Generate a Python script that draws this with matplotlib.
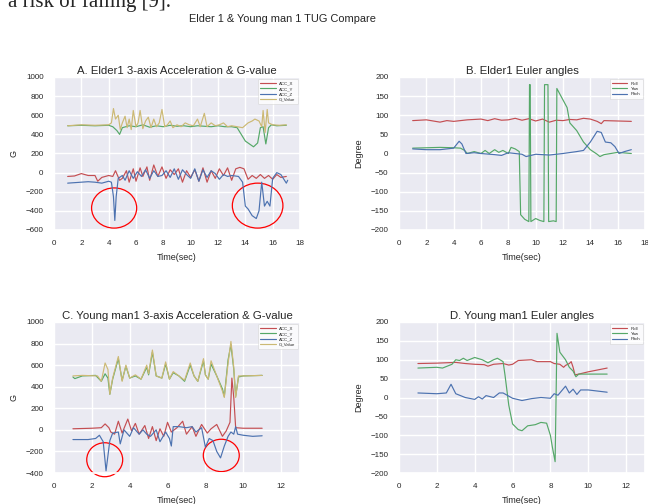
import numpy as np
import matplotlib
matplotlib.use('Agg')
import matplotlib.pyplot as plt
import seaborn as sns
from matplotlib.patches import Ellipse

# Panel A: Elder1 acceleration (time, value)
a_x_t = [1.0, 1.5, 2.0, 2.5, 3.0, 3.2, 3.5, 4.0, 4.3, 4.5, 4.8, 5.0, 5.3, 5.5, 5.8, 6.0, 6.3, 6.5, 6.8, 7.0,
         7.3, 7.6, 7.9, 8.2, 8.5, 8.8, 9.1, 9.4, 9.7, 10.0, 10.3, 10.6, 10.9, 11.2, 11.5, 11.8, 12.1, 12.4,
         12.7, 13.0, 13.3, 13.6, 13.9, 14.2, 14.5, 14.8, 15.1, 15.4, 15.7, 16.0, 16.3, 16.6, 17.0]
a_x_v = [-40, -35, -10, -30, -30, -90, -50, -30, -40, 20, -80, -60, 20, -100, 40, -90, 50, -40, 60, -80,
         80, -40, 60, -60, 30, -20, 40, -100, 20, -50, 30, -90, 50, -100, 20, -60, 40, -30, 50, -80,
         40, 55, 40, -70, -30, -60, -20, -60, -30, -70, -20, -50, -40]
a_y_t = [1.0, 2.0, 3.0, 4.0, 4.3, 4.6, 4.8, 5.0, 5.5, 6.0, 6.5, 7.0, 7.5, 8.0, 8.5, 9.0, 9.5, 10.0, 10.5,
         11.0, 11.5, 12.0, 12.5, 13.0, 13.4, 13.7, 14.0, 14.3, 14.6, 14.9, 15.1, 15.3, 15.5, 15.7, 15.9,
         16.3, 17.0]
a_y_v = [490, 495, 490, 495, 480, 440, 400, 470, 490, 480, 500, 475, 490, 480, 495, 485, 490, 480, 490,
         485, 480, 490, 480, 480, 470, 400, 330, 300, 270, 310, 470, 480, 300, 470, 500, 490, 495]
a_z_t = [1.0, 1.5, 2.0, 2.5, 3.0, 3.5, 4.0, 4.2, 4.35, 4.45, 4.55, 4.7, 5.0, 5.2, 5.5, 5.8, 6.1, 6.4,
         6.7, 7.0, 7.3, 7.6, 7.9, 8.2, 8.5, 8.8, 9.1, 9.4, 9.7, 10.0, 10.3, 10.6, 10.9, 11.2, 11.5, 11.8,
         12.1, 12.4, 12.7, 13.0, 13.5, 13.8, 14.0, 14.2, 14.5, 14.8, 15.0, 15.2, 15.4, 15.6, 15.8, 16.0,
         16.3, 16.6, 17.0, 17.1]
a_z_v = [-110, -105, -100, -95, -100, -110, -90, -100, -250, -500, -250, -60, -30, -80, 20, -60, 10, -40,
         30, -60, 20, -40, -30, 20, -50, 40, -70, 30, -20, -60, 40, -90, 30, -50, 20, -10, -70, -20, -40,
         -30, -40, -100, -350, -380, -450, -480, -400, -100, -350, -300, -350, -60, 0, -20, -110, -80]
a_g_t = [1.0, 2.0, 3.0, 4.0, 4.2, 4.35, 4.5, 4.7, 4.85, 5.0, 5.2, 5.35, 5.5, 5.65, 5.8, 6.0, 6.15, 6.3,
         6.5, 6.7, 6.9, 7.1, 7.3, 7.5, 7.7, 7.9, 8.1, 8.3, 8.5, 8.7, 9.0, 9.3, 9.6, 9.9, 10.2, 10.5, 10.7,
         11.0, 11.2, 11.5, 11.8, 12.1, 12.4, 12.7, 13.0, 13.4, 13.8, 14.2, 14.5, 14.7, 15.0, 15.2, 15.3,
         15.45, 15.6, 15.7, 15.85, 16.0, 16.5, 17.0]
a_g_v = [490, 500, 495, 500, 520, 670, 560, 600, 450, 520, 590, 470, 560, 450, 650, 480, 520, 650,
         460, 540, 580, 470, 560, 480, 520, 660, 480, 500, 540, 470, 500, 480, 520, 500, 490, 560, 480,
         620, 480, 520, 490, 500, 520, 480, 490, 480, 470, 520, 540, 560, 540, 480, 650, 420, 660, 520,
         510, 500, 495, 500]

# Panel B: Elder1 Euler angles
b_r_t = [1.0, 2.0, 3.0, 3.5, 4.0, 5.0, 6.0, 6.5, 7.0, 7.5, 8.0, 8.5, 9.0, 9.5, 10.0, 10.5, 11.0, 11.5,
         12.0, 12.5, 13.0, 13.5, 14.0, 14.5, 14.8, 15.0, 16.0, 17.0]
b_r_v = [86, 88, 82, 86, 84, 88, 90, 86, 91, 87, 88, 92, 87, 91, 85, 90, 82, 87, 86, 89, 88, 92, 90,
         84, 78, 86, 85, 84]
b_y_t = [1.0, 2.0, 3.0, 4.0, 4.5, 4.8, 5.0, 5.5, 6.0, 6.3, 6.6, 7.0, 7.3, 7.6, 8.0, 8.2, 8.5, 8.8,
         8.9, 9.2, 9.5, 9.55, 9.6, 9.65, 10.0, 10.3, 10.6, 10.65, 10.9, 10.95, 11.3, 11.5, 11.55, 12.0,
         12.3, 12.5, 13.0, 13.5, 14.0, 14.5, 14.7, 15.0, 16.0, 17.0]
b_y_v = [14, 15, 16, 15, 14, 8, 0, 5, 0, 8, 0, 10, 3, 8, 0, 16, 12, 5, -160, -172, -178, 180, 180,
         -178, -170, -175, -178, 180, 180, -178, -176, -178, 170, 140, 120, 80, 60, 30, 10, -2, -8, -3,
         3, 0]
b_p_t = [1.0, 2.0, 3.0, 4.0, 4.4, 4.6, 4.9, 5.5, 6.0, 7.0, 7.5, 8.0, 9.0, 9.3, 10.0, 11.0, 12.0,
         13.0, 13.5, 14.0, 14.5, 14.8, 15.1, 15.5, 15.8, 16.1, 16.5, 17.0]
b_p_v = [12, 10, 10, 14, 32, 25, 0, 2, 0, -3, -5, 2, -2, -8, -2, -4, 0, 5, 8, 30, 58, 55, 30, 28, 18,
         0, 5, 10]

# Panel C: Young man1 acceleration
c_x_t = [1.0, 2.0, 2.5, 2.7, 2.9, 3.0, 3.2, 3.4, 3.6, 3.9, 4.1, 4.3, 4.5, 4.8, 5.0, 5.2, 5.4, 5.6,
         5.8, 6.0, 6.2, 6.5, 6.8, 7.0, 7.3, 7.5, 7.8, 8.1, 8.3, 8.6, 8.9, 9.1, 9.3, 9.4, 9.5, 9.6, 10.0,
         11.0]
c_x_v = [10, 15, 20, 55, 20, -20, -40, 80, -30, 100, -10, 60, -40, 40, -80, 30, -100, 10, -60, 70,
         -20, 20, 80, -40, 30, -60, 50, -30, 10, 50, -60, -10, 70, 480, 300, 20, 15, 15]
c_y_t = [1.0, 1.1, 1.5, 2.2, 2.5, 2.7, 2.85, 2.95, 3.1, 3.4, 3.6, 3.8, 4.0, 4.3, 4.6, 4.9, 5.0, 5.2,
         5.4, 5.7, 5.9, 6.1, 6.3, 6.6, 6.9, 7.2, 7.4, 7.6, 7.9, 8.0, 8.15, 8.3, 8.6, 8.9, 9.0, 9.2, 9.35,
         9.5, 9.6, 9.75, 10.0, 11.0]
c_y_v = [490, 475, 500, 505, 450, 520, 480, 330, 470, 660, 460, 590, 480, 500, 470, 580, 510, 720,
         500, 480, 610, 470, 530, 500, 450, 600, 500, 450, 640, 510, 470, 610, 500, 380, 310, 650, 790,
         560, 310, 490, 500, 505]
c_z_t = [1.0, 1.8, 2.2, 2.4, 2.6, 2.75, 2.95, 3.1, 3.4, 3.5, 3.7, 4.0, 4.2, 4.5, 4.7, 4.9, 5.1, 5.4,
         5.6, 5.9, 6.1, 6.2, 6.3, 6.6, 7.0, 7.3, 7.5, 7.8, 8.0, 8.2, 8.4, 8.6, 8.8, 9.0, 9.2, 9.35, 9.5,
         9.6, 9.7, 10.0, 10.5, 11.0]
c_z_v = [-90, -90, -80, -50, -110, -380, -100, -30, -20, -130, 0, -60, 20, -40, 0, -40, -60, 0, -110,
         -20, -80, -150, 30, 30, 20, 30, -20, 20, -160, -80, -100, -200, -260, -150, -60, -20, -40, 30,
         -40, -50, -60, -55]
c_g_t = [1.0, 1.5, 2.3, 2.5, 2.7, 2.85, 2.95, 3.1, 3.4, 3.6, 3.8, 4.0, 4.3, 4.6, 4.9, 5.0, 5.2, 5.4,
         5.7, 5.9, 6.1, 6.3, 6.6, 6.9, 7.2, 7.4, 7.6, 7.9, 8.0, 8.15, 8.3, 8.6, 8.9, 9.0, 9.2, 9.35, 9.5,
         9.6, 9.75, 10.0, 11.0]
c_g_v = [500, 505, 500, 450, 620, 560, 330, 480, 680, 450, 600, 480, 510, 470, 600, 520, 740, 500,
         480, 630, 470, 540, 500, 460, 620, 500, 450, 660, 510, 470, 640, 500, 360, 300, 620, 820, 580,
         300, 500, 500, 505]

# Panel D: Young man1 Euler angles
d_r_t = [1.0, 2.0, 3.0, 3.5, 4.0, 4.5, 4.7, 5.0, 5.5, 5.8, 6.0, 6.3, 7.0, 7.3, 8.0, 8.2, 8.5, 8.7,
         8.8, 9.0, 9.1, 9.2, 9.3, 9.5, 10.0, 11.0]
d_r_v = [90, 91, 93, 90, 88, 87, 83, 88, 90, 86, 88, 98, 100, 95, 95, 90, 88, 80, 85, 90, 95, 80, 60,
         62, 68, 78]
d_y_t = [1.0, 2.0, 2.3, 2.8, 3.0, 3.2, 3.4, 3.6, 4.0, 4.4, 4.7, 5.0, 5.2, 5.5, 5.6, 5.8, 6.0, 6.3,
         6.5, 6.8, 7.2, 7.5, 7.8, 8.0, 8.1, 8.25, 8.35, 8.5, 8.8, 9.0, 9.2, 9.35, 9.5, 10.0, 11.0]
d_y_v = [78, 80, 78, 88, 100, 98, 104, 98, 106, 100, 92, 100, 104, 95, 60, -20, -70, -85, -88, -75,
         -72, -66, -68, -100, -130, -170, 170, 120, 100, 80, 70, 55, 62, 62, 62]
d_p_t = [1.0, 2.0, 2.5, 2.75, 3.0, 3.5, 4.0, 4.2, 4.4, 4.6, 5.0, 5.3, 5.5, 6.0, 6.5, 7.0, 7.5, 8.0,
         8.2, 8.4, 8.8, 9.0, 9.2, 9.4, 9.6, 10.0, 11.0]
d_p_v = [12, 10, 12, 35, 10, 0, -5, 2, -4, 5, 0, 12, 12, -2, -8, -3, 0, -2, 10, 6, 30, 12, 22, 8, 20,
         20, 14]

acc_labels = ['ACC_X', 'ACC_Y', 'ACC_Z', 'G_Value']
euler_labels = ['Roll', 'Yaw', 'Pitch']

# red circles marking the falls (center t, center value, width, height)
a_circles = [(4.4, -370, 3.3, 420), (14.9, -345, 3.7, 470)]
c_circles = [(2.68, -277, 1.9, 315), (8.84, -237, 1.9, 300)]

sns.set_theme(style='darkgrid', color_codes=True)
plt.rcParams['font.family'] = ['Liberation Sans', 'DejaVu Sans']

fig = plt.figure(figsize=(6.48, 5.04), dpi=100)
fig.text(0.012, 1 - 7 / 504, 'a risk of falling [9].', family='Liberation Serif', fontsize=15,
         va='baseline', ha='left')
fig.text(282 / 648, 1 - 19 / 504, 'Elder 1 & Young man 1 TUG Compare', fontsize=7.9, ha='center',
         va='center', color='#262626')


def styleAxes(ax, title, ylabel, xmax, ylim, yticks):
    ax.set_title(title, fontsize=8.2, pad=2, color='#262626')
    ax.set_xlim(0, xmax)
    ax.set_ylim(*ylim)
    ax.set_yticks(yticks)
    ax.set_xticks(np.arange(0, xmax + 1, 2))
    ax.tick_params(labelsize=5.8, pad=1.5, colors='#262626')
    ax.set_xlabel('Time(sec)', fontsize=6.5, labelpad=4, color='#262626')
    ax.set_ylabel(ylabel, fontsize=6.5, labelpad=5, color='#262626')
    leg = ax.legend(loc='upper right', fontsize=3.2, frameon=True, handlelength=3.5,
                    borderpad=0.5, labelspacing=0.3)
    leg.get_frame().set_facecolor('white')
    leg.get_frame().set_linewidth(0.4)


W = 246 / 648
H = 153 / 504

axA = fig.add_axes([54 / 648, 1 - 230 / 504, W, H])
axA.plot(a_x_t, a_x_v, 'r', lw=0.85, label=acc_labels[0])
axA.plot(a_y_t, a_y_v, 'g', lw=0.85, label=acc_labels[1])
axA.plot(a_z_t, a_z_v, 'b', lw=0.85, label=acc_labels[2])
axA.plot(a_g_t, a_g_v, 'y', lw=0.85, label=acc_labels[3])
styleAxes(axA, 'A. Elder1 3-axis Acceleration & G-value', 'G', 18, (-600, 1000),
          np.arange(-600, 1001, 200))
for cx, cy, w, h in a_circles:
    axA.add_patch(Ellipse((cx, cy), w, h, fill=False, edgecolor='red', lw=0.9, clip_on=False))

axB = fig.add_axes([399 / 648, 1 - 230 / 504, W, H])
axB.plot(b_r_t, b_r_v, 'r', lw=0.85, label=euler_labels[0])
axB.plot(b_y_t, b_y_v, 'g', lw=0.85, label=euler_labels[1])
axB.plot(b_p_t, b_p_v, 'b', lw=0.85, label=euler_labels[2])
styleAxes(axB, 'B. Elder1 Euler angles', 'Degree', 18, (-200, 200), np.arange(-200, 201, 50))

axC = fig.add_axes([54 / 648, 1 - 473 / 504, W, 151 / 504])
axC.plot(c_x_t, c_x_v, 'r', lw=0.85, label=acc_labels[0])
axC.plot(c_y_t, c_y_v, 'g', lw=0.85, label=acc_labels[1])
axC.plot(c_z_t, c_z_v, 'b', lw=0.85, label=acc_labels[2])
axC.plot(c_g_t, c_g_v, 'y', lw=0.85, label=acc_labels[3])
styleAxes(axC, 'C. Young man1 3-axis Acceleration & G-value', 'G', 13, (-400, 1000),
          np.arange(-400, 1001, 200))
for cx, cy, w, h in c_circles:
    axC.add_patch(Ellipse((cx, cy), w, h, fill=False, edgecolor='red', lw=0.9, clip_on=False))

axD = fig.add_axes([399 / 648, 1 - 473 / 504, W, 151 / 504])
axD.plot(d_r_t, d_r_v, 'r', lw=0.85, label=euler_labels[0])
axD.plot(d_y_t, d_y_v, 'g', lw=0.85, label=euler_labels[1])
axD.plot(d_p_t, d_p_v, 'b', lw=0.85, label=euler_labels[2])
styleAxes(axD, 'D. Young man1 Euler angles', 'Degree', 13, (-200, 200), np.arange(-200, 201, 50))

fig.savefig('out.png', dpi=100)
